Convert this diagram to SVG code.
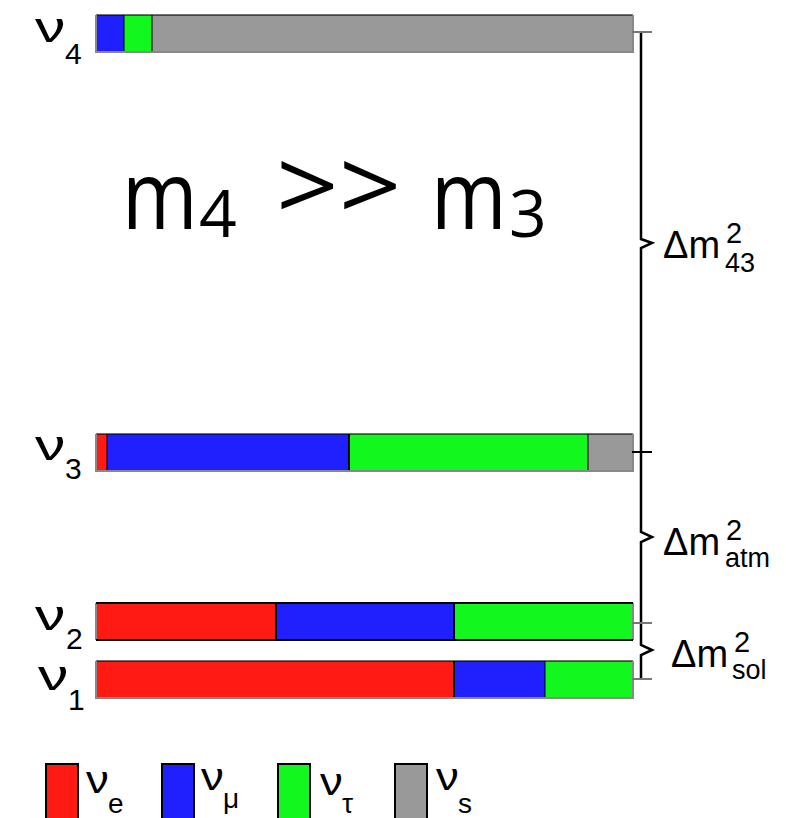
<svg xmlns="http://www.w3.org/2000/svg" width="786" height="818" viewBox="0 0 786 818">
<style>
.r{fill:#ff1a14}.b{fill:#2020ff}.g{fill:#12f71e}.s{fill:#999999}
.lab{font-family:"Liberation Sans",Arial,sans-serif;fill:#000}
.ti{font-family:"Open Sans",sans-serif;fill:#000}
.top{stroke:#000;stroke-opacity:0.55;stroke-width:2}
.edge{stroke:#888;stroke-width:2;fill:none}
.div{stroke:#000;stroke-width:2}
.divs{stroke:#000;stroke-opacity:0.5;stroke-width:2}
.br{stroke:#000;stroke-width:2.5;fill:none}
.tk{stroke:#777;stroke-width:2}
.lg{stroke:#000;stroke-width:2}
</style>
<rect width="786" height="818" fill="#fff"/>

<g id="nu4">
<rect class="b" x="96" y="15" width="28" height="37"/>
<rect class="g" x="124" y="15" width="28" height="37"/>
<rect class="s" x="152" y="15" width="481" height="37"/>
<line class="divs" x1="124" y1="15" x2="124" y2="52"/>
<line class="divs" x1="152" y1="15" x2="152" y2="52"/>
<line class="top" x1="96" y1="15" x2="633" y2="15"/>
<path class="edge" d="M96,15 V52 H633 V15"/>
<text class="lab" transform="translate(35,42) scale(1.45,1)" font-size="42">ν</text>
<text class="lab" x="65" y="64" font-size="30">4</text>
</g>

<g id="nu3">
<rect class="r" x="96" y="434" width="11" height="37"/>
<rect class="b" x="107" y="434" width="242" height="37"/>
<rect class="g" x="349" y="434" width="239" height="37"/>
<rect class="s" x="588" y="434" width="45" height="37"/>
<line class="divs" x1="107" y1="434" x2="107" y2="471"/>
<line class="div" x1="349" y1="434" x2="349" y2="471"/>
<line class="divs" x1="588" y1="434" x2="588" y2="471"/>
<line class="top" x1="96" y1="434" x2="633" y2="434"/>
<path class="edge" d="M96,434 V471 H633 V434"/>
<text class="lab" transform="translate(35,460) scale(1.45,1)" font-size="42">ν</text>
<text class="lab" x="65" y="479" font-size="30">3</text>
</g>

<g id="nu2">
<rect class="r" x="96" y="603" width="180" height="37"/>
<rect class="b" x="276" y="603" width="178" height="37"/>
<rect class="g" x="454" y="603" width="179" height="37"/>
<line class="div" x1="276" y1="603" x2="276" y2="640"/>
<line class="div" x1="454" y1="603" x2="454" y2="640"/>
<path class="edge" d="M96,603 V640 M633,603 V640"/>
<line class="div" x1="96" y1="603" x2="633" y2="603"/>
<line class="div" x1="96" y1="640" x2="633" y2="640"/>
<text class="lab" transform="translate(35,630) scale(1.45,1)" font-size="42">ν</text>
<text class="lab" x="66" y="649" font-size="30">2</text>
</g>

<g id="nu1">
<rect class="r" x="96" y="661" width="358" height="37"/>
<rect class="b" x="454" y="661" width="91" height="37"/>
<rect class="g" x="545" y="661" width="88" height="37"/>
<line class="div" x1="454" y1="661" x2="454" y2="698"/>
<line class="divs" x1="545" y1="661" x2="545" y2="698"/>
<line class="top" x1="96" y1="661" x2="633" y2="661"/>
<path class="edge" d="M96,661 V698 H633 V661"/>
<text class="lab" transform="translate(38,690) scale(1.45,1)" font-size="42">ν</text>
<text class="lab" x="68" y="710" font-size="30">1</text>
</g>

<g id="title">
<text class="ti" transform="translate(122,229) scale(0.86,1)" font-size="95">m</text>
<text class="ti" x="199" y="237" font-size="66">4</text>
<text class="ti" transform="translate(276,221) scale(1.12,1)" font-size="98">&gt;&gt;</text>
<text class="ti" transform="translate(431,229) scale(0.86,1)" font-size="95">m</text>
<text class="ti" x="509" y="237" font-size="66">3</text>
</g>

<g id="connectors">
<path class="br" d="M641,32 V239 L652,243 L641,248 V532 L652,537 L641,542 V645 L652,650 L641,655 V680"/>
<line class="tk" x1="632" y1="32" x2="652" y2="32"/>
<line class="div" x1="632" y1="452" x2="652" y2="452"/>
<line class="tk" x1="632" y1="623" x2="652" y2="623"/>
<line class="tk" x1="632" y1="679" x2="652" y2="679"/>
</g>

<g id="dm43">
<text class="lab" x="663" y="258" font-size="38">Δm</text>
<text class="lab" x="726" y="243" font-size="29">2</text>
<text class="lab" x="725" y="272" font-size="27">43</text>
</g>
<g id="dmatm">
<text class="lab" x="663" y="555" font-size="38">Δm</text>
<text class="lab" x="726" y="540" font-size="29">2</text>
<text class="lab" x="725" y="567" font-size="27">atm</text>
</g>
<g id="dmsol">
<text class="lab" x="671" y="667" font-size="38">Δm</text>
<text class="lab" x="734" y="652" font-size="29">2</text>
<text class="lab" x="732" y="679" font-size="27">sol</text>
</g>

<g id="legend-e">
<rect class="r lg" x="46" y="764" width="32" height="60"/>
<text class="lab" transform="translate(86,793) scale(1.2,1)" font-size="38">ν</text>
<text class="lab" x="108" y="813" font-size="28">e</text>
</g>
<g id="legend-mu">
<rect class="b lg" x="162" y="764" width="32" height="60"/>
<text class="lab" transform="translate(201,790) scale(1.2,1)" font-size="38">ν</text>
<text class="lab" x="223" y="808" font-size="28">μ</text>
</g>
<g id="legend-tau">
<rect class="g lg" x="278" y="764" width="32" height="60"/>
<text class="lab" transform="translate(320,795) scale(1.2,1)" font-size="38">ν</text>
<text class="lab" x="342" y="813" font-size="28">τ</text>
</g>
<g id="legend-s">
<rect class="s lg" x="395" y="764" width="32" height="60"/>
<text class="lab" transform="translate(436,790) scale(1.2,1)" font-size="38">ν</text>
<text class="lab" x="458" y="813" font-size="28">s</text>
</g>
</svg>
